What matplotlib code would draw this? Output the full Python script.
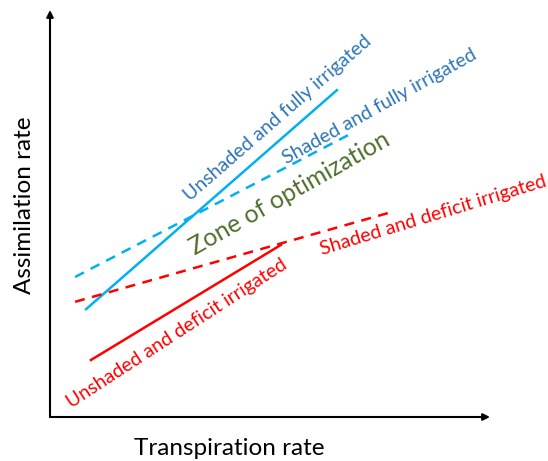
import matplotlib.pyplot as plt

plt.rcParams['font.family'] = ['Lato', 'DejaVu Sans']

# line end points (transpiration, assimilation), arbitrary units 0-10
unshaded_full_x = [0.82, 6.52]
unshaded_full_y = [2.65, 8.03]
shaded_full_x = [0.57, 6.82]
shaded_full_y = [3.44, 6.95]
shaded_deficit_x = [0.57, 7.68]
shaded_deficit_y = [2.83, 5.01]
unshaded_deficit_x = [0.93, 5.25]
unshaded_deficit_y = [1.40, 4.23]

cyan = '#00B0F0'
blue_txt = '#2E75B6'
red = '#FF0000'
green = '#4F6F2F'

fig = plt.figure(figsize=(5.48, 4.61), dpi=100)
ax = fig.add_axes([50 / 548, 44 / 461, 440 / 548, 407 / 461])
ax.set_xlim(0, 10)
ax.set_ylim(0, 10)
ax.axis('off')

# axes with arrows
ax.annotate('', xy=(0, 1), xytext=(0, 0), xycoords='axes fraction',
            arrowprops=dict(arrowstyle='-|>', color='black', lw=1.5,
                            mutation_scale=10, shrinkA=0, shrinkB=0))
ax.annotate('', xy=(1, 0), xytext=(0, 0), xycoords='axes fraction',
            arrowprops=dict(arrowstyle='-|>', color='black', lw=1.5,
                            mutation_scale=10, shrinkA=0, shrinkB=0))

ax.plot(unshaded_full_x, unshaded_full_y, color=cyan, lw=1.8)
ax.plot(shaded_full_x, shaded_full_y, color=cyan, lw=1.8, ls=(0, (4, 3)))
ax.plot(shaded_deficit_x, shaded_deficit_y, color=red, lw=1.8, ls=(0, (4, 3)))
ax.plot(unshaded_deficit_x, unshaded_deficit_y, color=red, lw=1.8)

kw = dict(ha='center', va='center', rotation_mode='anchor')
ax.text(5.18, 7.35, 'Unshaded and fully irrigated', color=blue_txt,
        fontsize=14, rotation=41, **kw)
ax.text(7.5, 7.64, 'Shaded and fully irrigated', color=blue_txt,
        fontsize=14, rotation=29, **kw)
ax.text(5.45, 5.50, 'Zone of optimization', color=green,
        fontsize=17.8, rotation=29.5, **kw)
ax.text(8.70, 4.96, 'Shaded and deficit irrigated', color=red,
        fontsize=14, rotation=17, **kw)
ax.text(2.89, 2.06, 'Unshaded and deficit irrigated', color=red,
        fontsize=14, rotation=33, **kw)

fig.text(229 / 548, 1 - 448 / 461, 'Transpiration rate', ha='center', va='center',
         fontsize=17.5)
fig.text(25 / 548, 1 - 205 / 461, 'Assimilation rate', ha='center', va='center',
         fontsize=17.5, rotation=90)

fig.savefig('out.png', dpi=100)
